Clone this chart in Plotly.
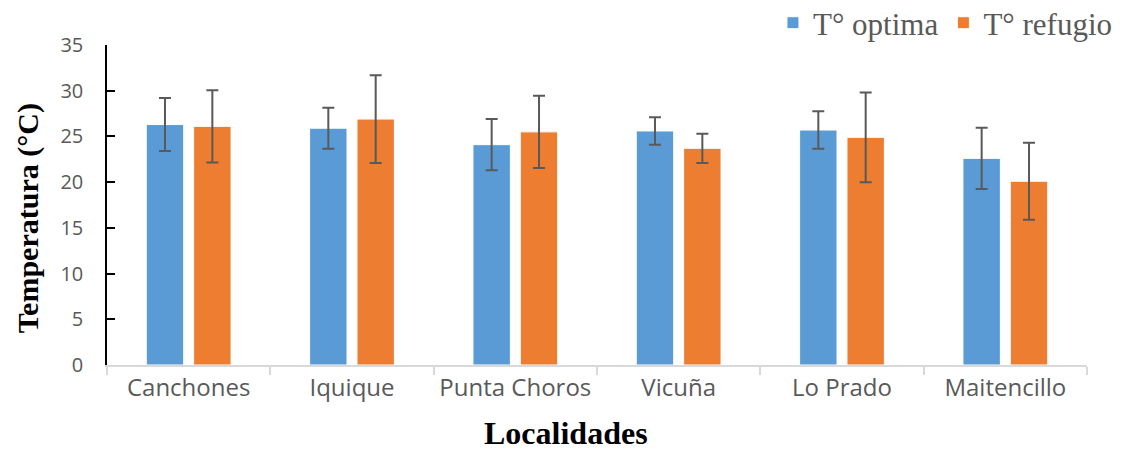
import plotly.graph_objects as go

# Localities and temperature data (°C)
localidades = ["Canchones", "Iquique", "Punta Choros", "Vicuña", "Lo Prado", "Maitencillo"]
t_optima = [26.3, 25.9, 24.1, 25.6, 25.7, 22.6]
t_optima_err = [2.9, 2.25, 2.8, 1.5, 2.05, 3.35]
t_refugio = [26.1, 26.9, 25.5, 23.7, 24.9, 20.1]
t_refugio_err = [3.95, 4.8, 3.95, 1.6, 4.9, 4.2]
y_ticks = [0, 5, 10, 15, 20, 25, 30, 35]

BLUE = "#5B9BD5"
ORANGE = "#ED7D31"
ERR = "#595959"
TXT = "#595959"

fig = go.Figure()
fig.add_trace(go.Bar(
    x=localidades, y=t_optima, name="T° optima",
    marker=dict(color=BLUE, line=dict(color="white", width=1)),
    error_y=dict(type="data", array=t_optima_err, color=ERR, thickness=2, width=6),
))
fig.add_trace(go.Bar(
    x=localidades, y=t_refugio, name="T° refugio",
    marker=dict(color=ORANGE, line=dict(color="white", width=1)),
    error_y=dict(type="data", array=t_refugio_err, color=ERR, thickness=2, width=6),
))

fig.update_layout(
    width=1128, height=454,
    margin=dict(l=107, r=41, t=45, b=89, autoexpand=False),
    paper_bgcolor="white", plot_bgcolor="white",
    barmode="group", bargap=0.42, bargroupgap=0.21,
    showlegend=True,
    legend=dict(
        orientation="h",
        xref="paper", x=1.0316, xanchor="right",
        yref="paper", y=1.153, yanchor="top",
        font=dict(family="Liberation Serif", size=31, color=TXT),
        bgcolor="rgba(0,0,0,0)", itemclick=False,
    ),
    font=dict(family="Open Sans", color=TXT),
)

fig.update_xaxes(
    showline=True, linecolor="#D9D9D9", linewidth=1.5,
    ticks="outside", tickson="boundaries", ticklen=8, tickcolor="#D9D9D9", tickwidth=1.5,
    tickfont=dict(family="Open Sans", size=24, color=TXT),
    showgrid=False,
)
fig.update_yaxes(
    range=[0, 35], tickvals=y_ticks, ticktext=[str(v) for v in y_ticks],
    showline=True, linecolor="black", linewidth=1.5,
    ticks="inside", ticklen=8, tickcolor="black", tickwidth=1.5,
    tickfont=dict(family="Open Sans", size=20, color=TXT),
    ticklabelstandoff=18,
    showgrid=False, zeroline=False,
)

# Axis titles
fig.add_annotation(
    text="<b>Localidades</b>", xref="paper", yref="paper",
    x=0.468, y=-0.275, xanchor="center", yanchor="bottom", showarrow=False,
    font=dict(family="Liberation Serif", size=32, color="black"),
)
fig.add_annotation(
    text="<b>Temperatura (°C)</b>", xref="paper", yref="paper",
    x=-0.0806, y=0.459, xanchor="center", yanchor="middle", showarrow=False,
    textangle=-90,
    font=dict(family="Liberation Serif", size=30, color="black"),
)

fig.write_html("out.html")
